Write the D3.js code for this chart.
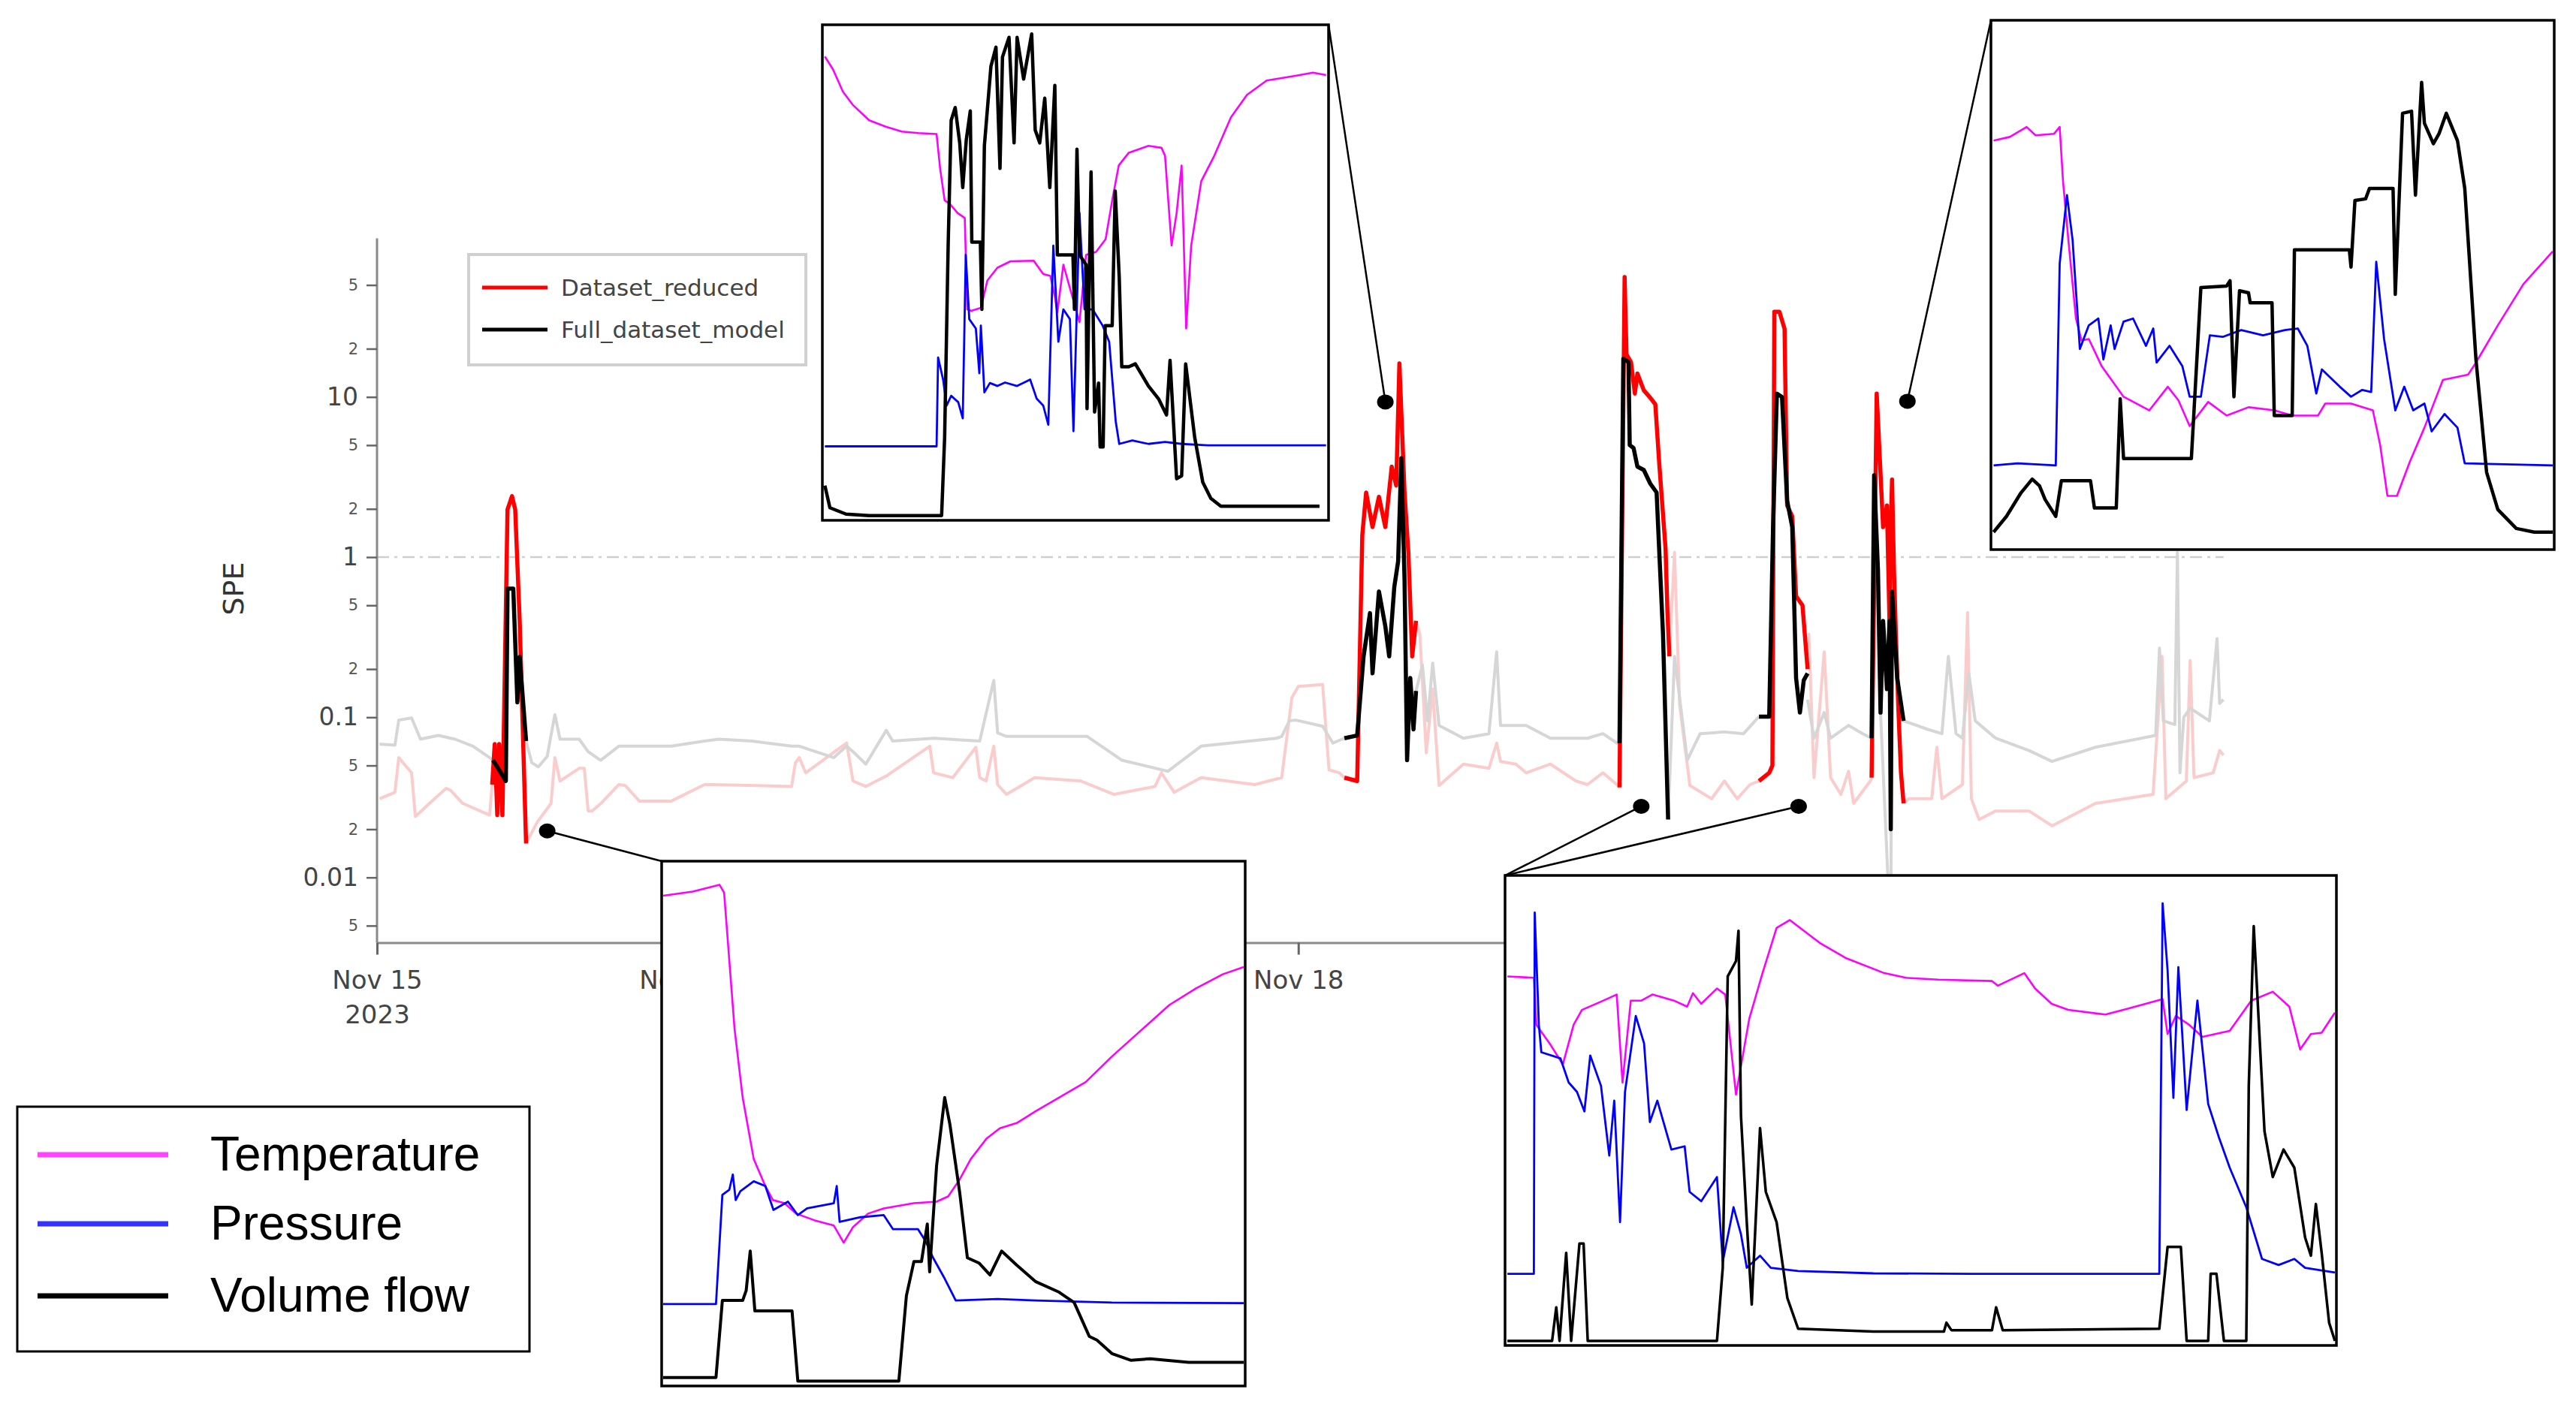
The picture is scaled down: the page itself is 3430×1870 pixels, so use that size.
<!DOCTYPE html>
<html>
<head>
<meta charset="utf-8">
<script src="https://cdn.jsdelivr.net/npm/d3@7"></script>
<style>
  body { margin: 0; background: #fff; }
  svg { display: block; }
</style>
</head>
<body>
<svg id="chart" width="3430" height="1870"></svg>
<script>
// ---- main chart data: [hours since Nov 15 2023 00:00, SPE]; null = hidden under a highlight ----
const fullBackground = [
  [0.2,0.068],[1.4,0.067],[1.7,0.096],[2.7,0.099],[3.4,0.073],[4.8,0.077],[5.75,0.074],[6.1,0.073],
  [7.5,0.066],[8.8,0.056],[9.06,0.054],[10,null],
  [11.65,0.071],[12.1,0.052],[12.6,0.049],[13.3,0.057],[13.9,0.104],[14.3,0.073],[15.8,0.073],
  [16.5,0.061],[17.3,0.055],[17.5,0.054],[18.9,0.066],[19.4,0.066],[22.2,0.066],[23,0.066],
  [25.6,0.071],[26.7,0.073],[29.3,0.071],[32.4,0.066],[33,0.066],[35.7,0.056],[36.7,0.066],
  [37.2,0.061],[38.2,0.051],[39.8,0.083],[40.3,0.071],[43.5,0.074],[47.1,0.071],[48.2,0.17],
  [48.5,0.08],[49.2,0.076],[55.5,0.076],[58.2,0.054],[61.8,0.046],[64.4,0.066],[70.3,0.074],
  [70.7,0.076],[71.3,0.095],[71.8,0.096],[73.9,0.088],[74.7,0.069],[75.6,0.074],[78,null],
  [81.2,0.146],
  [81.7,0.212],[82.1,0.095],[82.5,0.218],[83.0,0.089],[84.9,0.074],[86.9,0.079],[87.5,0.256],
  [87.8,0.089],[89.8,0.089],[91.7,0.074],[94.6,0.074],[95.8,0.079],[96.9,0.069],[97.1,0.069],
  [98.5,null],[100.9,0.023],[101.4,0.24],[102.4,0.054],
  [103.4,0.079],[105.3,0.081],[106.8,0.079],[108,0.101],[110,null],
  [111.8,0.129],[112.3,0.074],[113.1,0.107],[113.6,0.074],[115,0.089],[116.1,0.079],
  [116.8,0.074],[117,3.2],[117.5,0.107],[118.3,0.004],[118.4,0.6],[118.8,0.176],[119.3,0.095],
  [121.2,0.084],[122.3,0.079],[122.8,0.24],[123.4,0.079],[123.9,0.074],[124.4,0.188],[124.9,0.095],
  [126.5,0.074],[129.1,0.062],[130.9,0.053],[134.3,0.065],[139,0.077],[139.3,0.27],[139.6,0.095],
  [140.5,0.09],[140.7,1.07],[140.9,0.045],[141.2,0.1],[141.7,0.114],[143.2,0.095],[143.8,0.31],
  [144,0.122],[144.3,0.129]
];

const reducedBackground = [
  [0.2,0.031],[1.4,0.034],[1.7,0.056],[2.7,0.045],[3.0,0.024],[4.1,0.029],[5.4,0.036],[5.75,0.035],
  [6.7,0.029],[8.8,0.0245],[9.0,0.038],[10,null],[11.65,0.0163],
  [12.5,0.022],[13.6,0.029],[13.9,0.056],[14.3,0.04],[15.8,0.048],[16.2,0.048],[16.5,0.026],
  [16.8,0.026],[17.5,0.029],[18.9,0.038],[19.4,0.0375],[20.5,0.03],[23,0.03],[25.6,0.038],
  [26.2,0.038],[32.4,0.037],[32.7,0.052],[33,0.056],[33.5,0.045],[36.7,0.069],[37.2,0.04],
  [38.2,0.037],[39.8,0.043],[43.2,0.066],[43.5,0.045],[45,0.042],[46.8,0.065],[47.1,0.042],
  [47.6,0.04],[48.2,0.066],[48.5,0.038],[49.2,0.033],[51.4,0.042],[55,0.04],[57.6,0.033],
  [60.8,0.037],[61.3,0.045],[62.3,0.034],[64.4,0.042],[68.6,0.038],[70.7,0.042],[71.5,0.133],
  [72.0,0.156],[73.9,0.16],[74.4,0.047],[75.2,0.045],[75.6,0.042],[78,null],
  [81.2,0.4],[81.5,0.33],[82.0,0.06],[82.5,0.15],[83.0,0.0375],[84.9,0.051],[86.9,0.048],
  [87.5,0.069],[87.8,0.053],[89.0,0.051],[89.8,0.045],[91.7,0.051],[93.7,0.04],[94.6,0.038],
  [95.8,0.045],[96.9,0.038],[97.1,0.0365],[98.5,null],[101.0,0.24],
  [101.4,1.07],[101.8,0.12],[102.6,0.0375],[104.3,0.031],[105.3,0.04],[106.3,0.031],[107.3,0.038],
  [108,0.04],[110,null],[111.8,0.2],[111.9,0.33],[112.3,0.042],[113.1,0.256],
  [113.6,0.042],[114.4,0.033],[115.0,0.046],[115.4,0.029],[116.7,0.04],[116.8,0.042],[118,null],
  [119.3,0.029],[119.7,0.031],[121.5,0.031],[121.9,0.065],[122.3,0.031],
  [123.9,0.038],[124.3,0.45],[124.6,0.031],[125.2,0.023],[126.5,0.026],[129.1,0.026],[130.9,0.021],
  [134.3,0.029],[138.8,0.033],[139.5,0.24],[139.8,0.031],[141.4,0.04],[141.7,0.226],[142.0,0.042],
  [143.5,0.045],[144.0,0.062],[144.3,0.058]
];

// highlighted anomaly windows
const fullHighlight = [
  [[9.06,0.054],[9.4,0.049],[10.07,0.04],[10.2,0.635],[10.65,0.635],[10.97,0.124],[11.15,0.238],[11.65,0.071]],
  [[75.6,0.074],[76.6,0.077],[77.1,0.24],[77.6,0.447],[77.8,0.188],[78.3,0.61],[78.8,0.37],[79.1,0.24],
   [79.5,0.65],[79.8,0.94],[80.05,4.15],[80.3,0.73],[80.5,0.054],[80.75,0.176],[81.0,0.084],[81.2,0.146]],
  [[97.1,0.069],[97.4,17.3],[97.8,16.5],[97.9,5.0],[98.2,4.8],[98.5,3.67],[99.0,3.5],[99.5,2.88],
   [100.0,2.53],[100.5,0.33],[100.9,0.023]],
  [[108.0,0.101],[108.8,0.101],[109.1,1.54],[109.4,10.5],[109.8,10],[110.2,2.25],[110.6,1.54],
   [110.9,0.176],[111.2,0.107],[111.5,0.17],[111.8,0.188]],
  [[116.8,0.074],[117.0,3.24],[117.3,0.83],[117.5,0.107],[117.7,0.4],[118.0,0.15],[118.2,0.4],
   [118.3,0.02],[118.4,0.61],[118.6,0.33],[118.8,0.176],[119.3,0.095]]
];

const reducedHighlight = [
  [[9.0,0.038],[9.2,0.068],[9.4,0.0245],[9.55,0.068],[9.8,0.0245],[10.2,1.98],[10.55,2.4],[10.8,1.98],
   [11.15,0.4],[11.65,0.0163]],
  [[75.6,0.042],[76.6,0.04],[77.0,1.37],[77.3,2.53],[77.8,1.54],[78.3,2.38],[78.8,1.54],[79.3,3.67],
   [79.65,2.8],[79.9,16.2],[80.3,2.53],[80.6,1.07],[80.9,0.24],[81.2,0.4]],
  [[97.1,0.0365],[97.5,56],[97.65,18.4],[98.0,16.5],[98.3,10.5],[98.5,14],[99.0,11],[99.5,9.9],
   [99.9,9],[100.2,3.9],[100.7,1.13],[100.85,0.447],[101.0,0.24]],
  [[108.0,0.04],[108.8,0.045],[109.05,0.05],[109.2,34],[109.6,34],[110.0,26.6],[110.2,2.1],[110.6,1.8],
   [110.9,0.57],[111.4,0.5],[111.8,0.2]],
  [[116.8,0.042],[117.2,10.5],[117.7,1.54],[118.0,2.1],[118.2,0.4],[118.3,1.54],[118.4,3.05],
   [118.55,0.83],[118.7,0.33],[118.9,0.11],[119.1,0.045],[119.3,0.029]]
];

const yTicks = [0.005, 0.01, 0.02, 0.05, 0.1, 0.2, 0.5, 1, 2, 5, 10, 20, 50];
const seriesNames = ['Dataset_reduced', 'Full_dataset_model'];
const signalNames = ['Temperature', 'Pressure', 'Volume flow'];

// anchor points of the zoom callouts: [hours, SPE]
const calloutAnchors = [[78.8, 9.3], [119.6, 9.4], [13.3, 0.0195], [98.8, 0.0278], [111.1, 0.0278]];

// ---- inset data: [% of width, % of height] ----
const inset1Temp = [[0.2,94],[1.8,91.4],[3.8,86.8],[5.7,84.2],[9,81],[12.3,79.7],[15.5,78.7],[18.8,78.4],
  [22.4,78.2],[23.1,71.2],[24,64.7],[25,64],[26.6,62.1],[28,61.1],[28.5,42.5],[29.3,42.2],[31.2,42.8],
  [32.5,48.4],[34.5,51],[37.1,52.3],[41.7,52.4],[43.6,49.7],[45,49.3],[45.9,45.1],[46.4,41.9],[47.6,51.6],
  [50.8,39.9],[52.1,53.6],[54.1,54.2],[56,56.8],[57.3,64.7],[58.6,71.8],[60.6,74.4],[64.5,75.8],[67.1,75.4],
  [67.8,73.8],[69.1,55.5],[70.1,62.1],[71.1,71.8],[72,38.6],[73,55.5],[75,68.6],[77.6,73.8],[80.9,81.6],
  [84.1,86.2],[88,89.1],[93.9,90.1],[97.2,90.7],[99.8,90.2]];
const inset1Press = [[0.2,14.6],[22.4,14.6],[22.7,32.7],[23.7,28.2],[24.4,22.9],[25.3,24.9],[26.7,23.6],
  [27.6,20.3],[28.2,53.6],[28.9,40.5],[30.2,38.6],[30.9,29.5],[31.2,39.2],[31.9,25.6],[33,27.5],[34.5,26.9],
  [36,27.6],[38.4,26.9],[41,28.2],[42.3,24.3],[43.6,22.9],[44.6,19],[45.6,55.5],[46.6,35.9],[47.6,42.5],
  [48.9,40.5],[49.6,17.7],[50.8,62.1],[51.8,42.5],[53.4,42.5],[55.4,39.2],[56.7,35.9],[58,19.7],[58.7,15.1],
  [61.3,15.8],[64.5,15.1],[67.8,15.5],[71.1,15.1],[76.3,14.8],[99.8,14.8]];
const inset1Flow = [[0.2,6.6],[1.2,2.1],[4.4,0.8],[9,0.5],[23.4,0.5],[24,16.4],[24.7,55.5],[25.3,81],
  [26.1,83.6],[27,76.4],[27.6,67.3],[28.3,77],[29.1,82.9],[29.4,56.2],[31.1,56.2],[31.4,42.5],[31.9,75.8],
  [33.2,92],[34.2,95.9],[35,71.2],[35.5,93.9],[36.8,97.9],[37.8,76.4],[38.4,97.9],[39.7,89.4],[41.3,98.6],
  [42,79],[42.9,76.4],[43.9,85.5],[44.9,67.3],[45.9,88.1],[46.4,53.6],[49.5,53.6],[49.8,42.5],[50.3,75.1],
  [50.8,53.6],[52.1,51.6],[52.3,22.3],[53.1,70.5],[53.8,21.6],[54.6,27.5],[54.9,14.5],[55.5,14.5],
  [55.9,39.2],[57.3,39.2],[57.9,66.6],[58.7,49],[59.2,30.8],[60.6,30.8],[61.9,31.4],[64.5,26.9],
  [66.5,24.3],[68.1,21],[68.8,32.1],[70.1,8],[71.1,8.6],[71.9,31.4],[73.7,16.4],[75.3,7.3],[76.9,4],
  [78.9,2.4],[98.5,2.4]];

const inset2Temp = [[0.2,77.5],[3.1,78.2],[6.1,80.1],[7.7,78.5],[11,78.8],[12,80.1],[12.6,69.7],[13.6,58],
  [14.9,43.6],[15.9,39.4],[17.2,39.7],[19.5,34.5],[23.4,28.7],[28,26.1],[31.3,30.6],[33.2,28],[35.2,23.1],
  [38.5,27.7],[41.8,25.1],[45.7,26.7],[50.3,26.1],[53.5,25.1],[58.1,25.1],[59.4,27.4],[64,27.4],[67.9,26.1],
  [69.2,19.5],[70.5,9.8],[72.2,9.8],[74.5,16.3],[77.1,22.8],[80.4,31.9],[84.9,32.9],[86.3,35.2],[90.2,42.3],
  [94.8,50.2],[100,56.4]];
const inset2Press = [[0.2,15.6],[4.5,16],[11.3,15.6],[12,54.1],[13.3,67.1],[14.3,58.6],[15.6,37.8],
  [17.2,42.3],[18.9,43.6],[19.8,35.8],[21.1,42.3],[21.8,37.8],[23.4,43],[25.1,43.6],[27.4,38.4],[28.7,41.7],
  [29.3,35.2],[31.6,38.4],[33.9,34.5],[35.2,28.7],[37.2,28.7],[38.8,40.4],[41.1,40.1],[44.4,41.4],[48.3,40.4],
  [52.2,41.4],[54.5,41.7],[56.2,38.4],[57.8,29.3],[58.8,33.9],[62,30.6],[64,28.7],[66,30],[67.6,29.6],
  [68.5,54.4],[69.9,39.7],[71.9,26.1],[73.5,30.6],[75.1,26.1],[77.1,27.4],[78.4,22.1],[80.7,25.4],
  [83,22.8],[84.3,16],[100,15.6]];
const inset2Flow = [[0.2,2.9],[2.5,5.9],[5.1,10.4],[7.1,13],[8.4,11.7],[9.4,9.1],[11.3,5.9],[12.3,12.7],
  [17.5,12.7],[18.2,7.5],[22.1,7.5],[22.8,28.3],[23.4,16.9],[35.5,16.9],[37.2,49.5],[41.8,49.8],[42.4,50.8],
  [43.1,28.7],[44.1,48.9],[45.7,48.5],[46,46.6],[49.9,46.6],[50.3,25.1],[53.5,25.1],[53.9,56.7],[63.7,56.7],
  [64,53.4],[64.7,66.1],[66.6,66.4],[67.3,68.4],[71.5,68.4],[71.9,48.2],[73.2,82.7],[74.8,83.1],[75.5,67.1],
  [76.6,88.6],[77.1,80.8],[78.7,76.9],[79.7,78.8],[81,82.7],[83,77.5],[84.3,68.4],[86.3,35.8],[88.2,14.3],
  [90.2,7.2],[93.5,3.6],[96.7,2.9],[100,2.9]];

const inset3Temp = [[0,93.8],[5.1,94.6],[9.7,95.9],[10.5,94.4],[11.4,81.3],[12.3,68.2],[13.7,55],[15.6,43.2],
  [17.6,38],[18.9,35.3],[20.9,34.7],[22.9,32.7],[26.1,31.4],[29.4,30.4],[31.1,27.1],[32.7,30.1],[35.3,32.7],
  [38,33.7],[43.2,34.7],[47.1,35],[49.1,36],[51.1,39.3],[53,43.2],[55.7,47.1],[58,49.1],[60.9,50.1],
  [64.2,52.4],[68.2,55],[72.8,58],[77.3,62.9],[82.6,68.2],[87.2,72.8],[91.8,76],[96.4,78.7],[100,80.1]];
const inset3Press = [[0,15.3],[9.1,15.3],[10.2,36.3],[11.4,37.3],[12,40.2],[12.5,35.3],[13.3,37],[15.6,38.9],
  [17.6,38],[19,33.4],[21.5,35],[23.2,32.4],[24.8,33.7],[29.4,34.7],[29.9,38],[30.4,31.1],[34,32],[38,32.4],
  [39.6,29.7],[43.9,29.7],[45.2,27.4],[46.5,24.2],[48.5,20.2],[50.4,16],[57.6,16.3],[64.2,16],[77.3,15.6],
  [100,15.5]];
const inset3Flow = [[0,1.2],[9.1,1.2],[10.2,16],[13.7,16],[14.3,17.9],[15,25.5],[15.8,14],[22.2,14],
  [23.2,0.5],[40.6,0.5],[41.9,16.9],[43.2,23.5],[44.5,23.5],[45.5,30.7],[45.9,21.5],[47.1,41.9],[48.5,55],
  [49.4,49.8],[51.1,36.6],[52.4,24.2],[54.4,23.2],[56.3,20.9],[58.3,25.5],[60.9,22.8],[64.2,19.6],
  [68.2,17.6],[70.8,15.6],[73.4,9.1],[74.7,8.4],[77.3,5.8],[80.6,4.5],[83.9,4.8],[90.5,4.1],[100,4.1]];

const inset4Temp = [[0.1,78.8],[3.3,78.5],[3.6,68.4],[5.2,64.4],[6.8,59.9],[8.1,68.4],[9.1,71.6],[11.7,73.6],
  [13.3,74.9],[14,56],[15,73.6],[16.3,73.6],[17.6,74.9],[20.2,73.6],[21.8,72.3],[22.5,75.2],[23.5,72.9],
  [25.4,76.2],[26.4,74.9],[27.7,53.4],[29.3,69.7],[30.9,79.5],[32.6,89.2],[34.2,90.9],[37.8,86],[41,82.7],
  [45.6,79.5],[48.2,78.5],[52.1,78.1],[58.6,77.8],[59.3,76.8],[62.5,79.5],[63.8,76.2],[65.8,72.9],
  [67.8,71.6],[72.3,70.6],[74.9,71.8],[79.2,73.9],[79.8,66.4],[80.8,70.3],[82.4,68.4],[84,65.8],[87.3,67.1],
  [89.9,73.6],[92.5,75.5],[94.5,72.3],[95.8,63.1],[97.1,66.4],[98.4,66.7],[100,71]];
const inset4Press = [[0.1,14.9],[3.3,14.9],[3.4,92.5],[3.9,68.4],[4.2,62.5],[6.5,61.2],[7.5,56],[8.5,54],
  [9.4,49.8],[10.1,61.8],[11.4,55.3],[12.4,40.3],[13,52.1],[13.7,26],[14.3,54],[15.6,70.3],[16.6,64.4],
  [17.3,47.5],[18.2,52.1],[19.9,41.6],[21.5,42.3],[22.1,32.5],[23.5,30.5],[25.4,35.7],[26.1,17.5],
  [27.4,29.2],[28.3,23.4],[29,16.2],[30.6,18.8],[31.9,16.2],[35.2,15.5],[44.3,15],[56,14.9],[78.8,14.9],
  [79.2,94.5],[79.8,80.1],[80.5,52.7],[81.1,80.8],[82.1,50.1],[83.4,73.6],[84.7,51.4],[86,44.2],[87.3,37.7],
  [89.3,29.2],[91.2,18.1],[93.2,16.8],[95.1,18.1],[96.4,16.2],[100,15.2]];
const inset4Flow = [[0.1,0.5],[5.5,0.5],[6,7.7],[6.4,0.5],[7.2,19.4],[7.8,0.5],[8.8,21.4],[9.3,21.4],
  [9.8,0.5],[25.4,0.5],[26.1,16.2],[26.7,78.8],[27.7,82.1],[28,88.6],[28.3,48.8],[29,26],[29.6,8.3],
  [30.6,46.2],[31.3,32.5],[32.6,26],[33.9,9.7],[35.2,3.1],[44.3,2.5],[52.8,2.5],[53.1,4.4],[53.7,2.8],
  [58.6,2.8],[59.1,7.7],[59.9,2.8],[78.8,3.1],[79.8,20.7],[81.4,20.7],[82.1,0.5],[84.7,0.5],[85,14.9],
  [85.7,14.9],[86.6,0.5],[89.3,0.5],[89.6,55.3],[90.2,89.6],[90.9,65.8],[91.5,45.5],[92.5,35.7],[93.8,41.6],
  [95.1,37.7],[96.4,22.7],[97.1,18.8],[97.7,29.9],[98.4,19.4],[99.3,4.4],[100,0.5]];

// ---------------------------------------------------------------
const svg = d3.select('#chart');
const t0 = new Date(2023, 10, 15);
const toDate = h => new Date(t0.getTime() + h * 3600e3);

const x = d3.scaleTime().domain([t0, toDate(144.5)]).range([502, 2964]);
const y = d3.scaleLog().domain([Math.pow(10, -2.407), Math.pow(10, 1.99)]).range([1255.5, 317.5]);

const line = d3.line()
  .defined(d => d[1] != null)
  .x(d => x(toDate(d[0]))).y(d => y(d[1]));

const fontMain = '"DejaVu Sans", Verdana, sans-serif';

// dash-dot threshold at SPE = 1
svg.append('line')
  .attr('x1', x(t0)).attr('x2', x(toDate(144.3)))
  .attr('y1', y(1)).attr('y2', y(1))
  .attr('stroke', '#cfcfcf').attr('stroke-width', 2.5)
  .attr('stroke-dasharray', '16,7,4,7');

// faint full-length series
svg.append('path').datum(reducedBackground)
  .attr('fill', 'none').attr('stroke', '#fbcccc').attr('stroke-width', 4)
  .attr('stroke-linejoin', 'round').attr('d', line);
svg.append('path').datum(fullBackground)
  .attr('fill', 'none').attr('stroke', '#d6d6d6').attr('stroke-width', 4)
  .attr('stroke-linejoin', 'round').attr('d', line);

// highlighted windows
svg.append('g').selectAll('path').data(reducedHighlight).enter().append('path')
  .attr('fill', 'none').attr('stroke', '#ff0000').attr('stroke-width', 5.5)
  .attr('stroke-linejoin', 'round').attr('d', line);
svg.append('g').selectAll('path').data(fullHighlight).enter().append('path')
  .attr('fill', 'none').attr('stroke', '#000').attr('stroke-width', 5.5)
  .attr('stroke-linejoin', 'round').attr('d', line);

// y axis
const isDecade = v => Math.abs(Math.log10(v) - Math.round(Math.log10(v))) < 1e-9;
const yAxis = d3.axisLeft(y).tickValues(yTicks).tickSize(14).tickSizeOuter(0)
  .tickFormat(v => isDecade(v) ? d3.format('~g')(v)
    : String(Math.round(v / Math.pow(10, Math.floor(Math.log10(v))))));
const gy = svg.append('g').attr('transform', 'translate(502,0)').call(yAxis);
gy.select('.domain').attr('stroke', '#8a8a8a').attr('stroke-width', 3)
  .attr('d', `M0,${317.5}V${1255.5}`);
gy.selectAll('.tick line').attr('stroke', '#666').attr('stroke-width', 2.5);
gy.selectAll('.tick text')
  .attr('x', -25)
  .attr('font-family', fontMain)
  .attr('font-size', d => isDecade(d) ? 33 : 21)
  .attr('fill', d => isDecade(d) ? '#444' : '#555');

// x axis
const xAxis = d3.axisBottom(x).tickValues(d3.timeDay.range(t0, toDate(145)))
  .tickSize(16).tickSizeOuter(0).tickFormat(d3.timeFormat('%b %d'));
const gx = svg.append('g').attr('transform', 'translate(0,1255.5)').call(xAxis);
gx.select('.domain').attr('stroke', '#8a8a8a').attr('stroke-width', 3);
gx.selectAll('.tick line').attr('stroke', '#666').attr('stroke-width', 3);
gx.selectAll('.tick text')
  .attr('y', 61).attr('dy', null)
  .attr('font-family', fontMain).attr('font-size', 34).attr('fill', '#444');
gx.selectAll('.tick text').filter((d, i) => i === 0)
  .append('tspan').attr('x', 0).attr('dy', 46).text('2023');

// y title
svg.append('text')
  .attr('transform', 'translate(324,784) rotate(-90)')
  .attr('text-anchor', 'middle')
  .attr('font-family', fontMain).attr('font-size', 38).attr('fill', '#333')
  .text('SPE');

// main legend
const lg = svg.append('g');
lg.append('rect').attr('x', 624).attr('y', 339).attr('width', 449).attr('height', 147)
  .attr('fill', '#fff').attr('stroke', '#d0d0d0').attr('stroke-width', 4);
const legendColors = ['#ff0000', '#000'];
seriesNames.forEach((name, i) => {
  const ly = 383 + i * 56;
  lg.append('line').attr('x1', 642).attr('x2', 729).attr('y1', ly).attr('y2', ly)
    .attr('stroke', legendColors[i]).attr('stroke-width', 5);
  lg.append('text').attr('x', 747).attr('y', ly).attr('dy', '0.36em')
    .attr('font-family', fontMain).attr('font-size', 31).attr('fill', '#444').text(name);
});

// insets
const insets = [
  { box: [1095, 33, 1769, 693], data: [inset1Temp, inset1Press, inset1Flow], anchors: [0], corner: [1769, 33], flowWidth: 4.5 },
  { box: [2651, 27, 3401, 732], data: [inset2Temp, inset2Press, inset2Flow], anchors: [1], corner: [2651, 27], flowWidth: 4.5 },
  { box: [881, 1147, 1658, 1846], data: [inset3Temp, inset3Press, inset3Flow], anchors: [2], corner: [881, 1147], flowWidth: 4 },
  { box: [2004, 1166, 3111, 1792], data: [inset4Temp, inset4Press, inset4Flow], anchors: [3, 4], corner: [2004, 1166], flowWidth: 3.5 }
];
const signalColors = ['#ff00ff', '#0000ff', '#000'];
const signalWidths = [2.6, 2.8, null];

// callout connectors and dots
const cg = svg.append('g');
insets.forEach(ins => {
  ins.anchors.forEach(a => {
    const ax = x(toDate(calloutAnchors[a][0])), ay = y(calloutAnchors[a][1]);
    cg.append('line').attr('x1', ax).attr('y1', ay).attr('x2', ins.corner[0]).attr('y2', ins.corner[1])
      .attr('stroke', '#000').attr('stroke-width', 2.5);
    cg.append('ellipse').attr('cx', ax).attr('cy', ay).attr('rx', 11).attr('ry', 10).attr('fill', '#000');
  });
});

insets.forEach((ins, k) => {
  const [x0, y0, x1, y1] = ins.box;
  const g = svg.append('g');
  const clipId = 'clip' + k;
  g.append('clipPath').attr('id', clipId).append('rect')
    .attr('x', x0).attr('y', y0).attr('width', x1 - x0).attr('height', y1 - y0);
  g.append('rect').attr('x', x0).attr('y', y0).attr('width', x1 - x0).attr('height', y1 - y0)
    .attr('fill', '#fff');
  const ix = d3.scaleLinear().domain([0, 100]).range([x0 + 2, x1 - 2]);
  const iy = d3.scaleLinear().domain([0, 100]).range([y1 - 3, y0 + 3]);
  const iline = d3.line().x(d => ix(d[0])).y(d => iy(d[1]));
  const lines = g.append('g').attr('clip-path', `url(#${clipId})`);
  ins.data.forEach((series, s) => {
    lines.append('path').datum(series)
      .attr('fill', 'none').attr('stroke', signalColors[s])
      .attr('stroke-width', signalWidths[s] || ins.flowWidth)
      .attr('stroke-linejoin', 'round').attr('d', iline);
  });
  g.append('rect').attr('x', x0).attr('y', y0).attr('width', x1 - x0).attr('height', y1 - y0)
    .attr('fill', 'none').attr('stroke', '#000').attr('stroke-width', 3.5);
});

// signal legend (bottom left)
const sg = svg.append('g');
sg.append('rect').attr('x', 23).attr('y', 1474).attr('width', 682).attr('height', 326)
  .attr('fill', '#fff').attr('stroke', '#000').attr('stroke-width', 3);
const legendSignalColors = ['#ff44ff', '#3333ff', '#000'];
signalNames.forEach((name, i) => {
  const ly = [1538, 1630, 1726][i];
  sg.append('line').attr('x1', 50).attr('x2', 224).attr('y1', ly).attr('y2', ly)
    .attr('stroke', legendSignalColors[i]).attr('stroke-width', 7);
  sg.append('text').attr('x', 280).attr('y', ly + 21)
    .attr('font-family', '"Liberation Sans", Arial, sans-serif').attr('font-size', 64)
    .attr('fill', '#000').text(name);
});
</script>
</body>
</html>
